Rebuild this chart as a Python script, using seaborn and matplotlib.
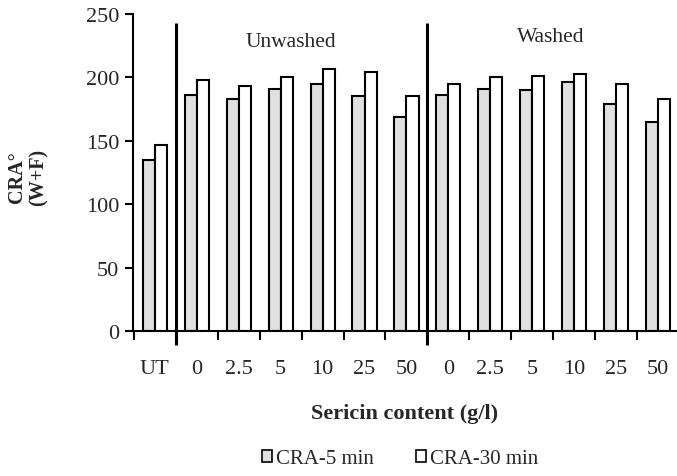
import matplotlib
matplotlib.use("Agg")
import matplotlib.pyplot as plt
from matplotlib.patches import Patch
import seaborn as sns
import pandas as pd

# ---- data ----
categories = ["UT", "U0", "U2.5", "U5", "U10", "U25", "U50",
              "W0", "W2.5", "W5", "W10", "W25", "W50"]
tick_labels = ["UT", "0", "2.5", "5", "10", "25", "50",
               "0", "2.5", "5", "10", "25", "50"]
cra_5min = [135, 186, 183, 191, 195, 185, 169, 186, 191, 190, 196, 179, 165]
cra_30min = [147, 198, 193, 200, 207, 204, 185, 195, 200, 201, 203, 195, 183]
series_names = ["CRA-5 min", "CRA-30 min"]
group_names = ["Unwashed", "Washed"]

df = pd.DataFrame({
    "cat": categories * 2,
    "series": [series_names[0]] * len(categories) + [series_names[1]] * len(categories),
    "value": cra_5min + cra_30min,
})

sns.set_style("ticks")
plt.rcParams["font.family"] = ["Liberation Serif", "DejaVu Serif"]

fig = plt.figure(figsize=(6.77, 4.77), dpi=100)
ax = fig.add_axes([133 / 677, 1 - 332 / 477, 1 - 133 / 677, (332 - 15) / 477])

fill = {"CRA-5 min": "#e0e0e0", "CRA-30 min": "white"}
sns.barplot(data=df, x="cat", y="value", hue="series", order=categories,
            hue_order=series_names, palette=fill, saturation=1,
            width=0.575, edgecolor="black", linewidth=1.5, legend=False, ax=ax)

ax.set_ylim(0, 250)
ax.set_xlim(-0.52, 12.45)
ax.set_yticks([0, 50, 100, 150, 200, 250])
ax.set_xticks(range(len(categories)))
ax.set_xticklabels(tick_labels)
ax.set_xticks([k + 0.5 for k in range(-1, 12)], minor=True)
ax.tick_params(axis="x", which="major", length=0, pad=20, labelsize=16)
ax.tick_params(axis="x", which="minor", length=6.5, width=1.5, color="black")
ax.tick_params(axis="y", length=6, width=1.5, labelsize=16, color="black", pad=4)

for s in ["top", "right"]:
    ax.spines[s].set_visible(False)
for s in ["left", "bottom"]:
    ax.spines[s].set_linewidth(1.5)
    ax.spines[s].set_color("black")

# group dividers
for xpos in [0.5, 6.5]:
    ax.plot([xpos, xpos], [-11, 243], color="black", lw=2.2, clip_on=False,
            solid_capstyle="butt")

ax.text(3.25, 228, group_names[0], ha="center", va="center", fontsize=15.5)
ax.text(9.45, 232, group_names[1], ha="center", va="center", fontsize=15.5)

ax.set_xlabel("Sericin content (g/l)", fontsize=16, fontweight="bold", labelpad=18)
ax.set_ylabel("")
fig.text(28 / 677, 1 - 177 / 477, "CRA°\n(W+F)", rotation=90, ha="center",
         va="center", fontsize=14.5, fontweight="bold", multialignment="center",
         linespacing=1.12)

handles = [Patch(facecolor=fill[n], edgecolor="black", linewidth=1.2, label=n)
           for n in series_names]
fig.legend(handles=handles, loc="center", bbox_to_anchor=(400 / 677, 1 - 460 / 477),
           ncol=2, frameon=False, fontsize=15, handlelength=0.5, handleheight=0.5,
           handletextpad=0.2, columnspacing=2.0)

fig.savefig("out.png", dpi=100)
